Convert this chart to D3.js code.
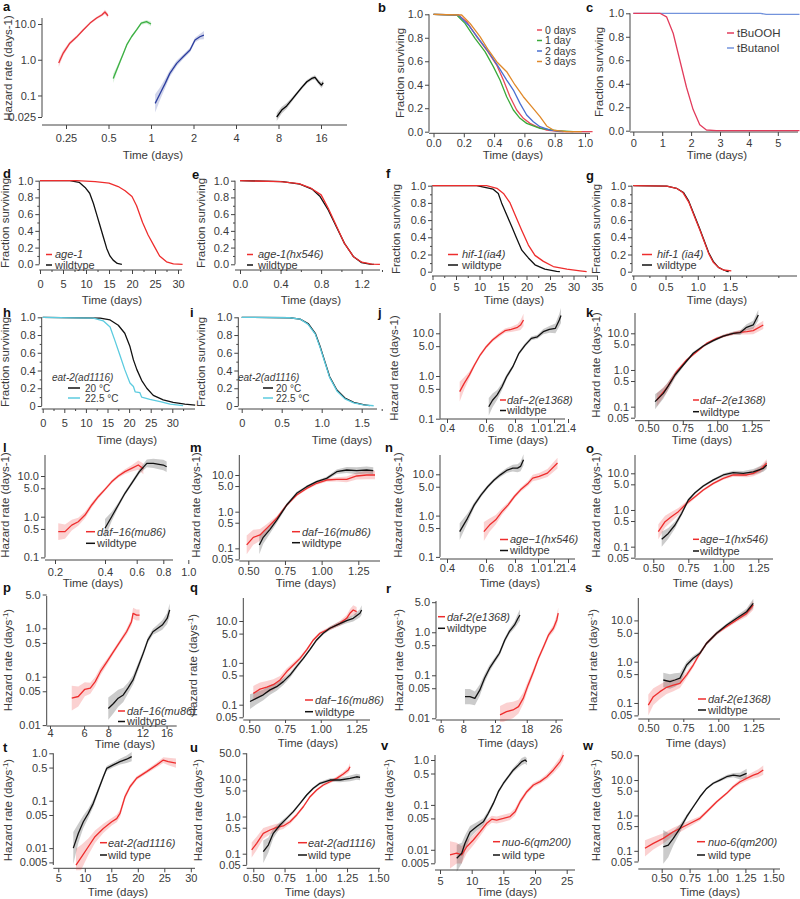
<!DOCTYPE html>
<html>
<head>
<meta charset="utf-8">
<script src="https://cdn.jsdelivr.net/npm/d3@7"></script>
<style>
  body { margin: 0; background: #fff; }
  svg text { font-family: 'Liberation Sans', Arial, Helvetica, sans-serif; fill: #3a3a3a; }
</style>
</head>
<body>
<svg id="fig" width="800" height="899"></svg>
<script>
// ---------- data (time, value, band factor) ----------
// a: hazard vs log time, four ages
const aRed = [[0.222,0.81,1.3],[0.239,1.54,1.2],[0.266,2.9,1.12],[0.297,4.3,1.1],[0.331,6.8,1.08],[0.370,10.6,1.08],[0.412,14.7,1.08],[0.448,17.9,1.1],[0.472,21.7,1.15],[0.496,17,1.15]];
const aGreen = [[0.54,0.3,1.35],[0.571,0.52,1.2],[0.603,0.88,1.15],[0.637,1.5,1.1],[0.673,2.6,1.1],[0.728,4.4,1.08],[0.79,6.8,1.08],[0.853,10.5,1.1],[0.93,11.6,1.12],[1.0,10,1.15]];
const aBlue = [[1.07,0.06,1.8],[1.16,0.114,1.5],[1.26,0.218,1.35],[1.36,0.416,1.25],[1.52,0.79,1.2],[1.69,1.21,1.15],[1.89,1.87,1.15],[2.05,3.57,1.15],[2.22,4.4,1.2],[2.37,4.9,1.3]];
const aBlack = [[7.77,0.025,1.3],[8.43,0.039,1.25],[9.14,0.051,1.2],[9.92,0.075,1.15],[10.8,0.114,1.12],[11.7,0.168,1.12],[12.7,0.243,1.12],[13.75,0.30,1.12],[14.5,0.32,1.15],[15.3,0.243,1.15],[16.1,0.195,1.2],[16.6,0.227,1.2]];

// b: survival, storage days
const b0 = [[0,1],[0.164,0.994],[0.219,0.937],[0.285,0.81],[0.351,0.696],[0.417,0.568],[0.461,0.44],[0.505,0.298],[0.549,0.185],[0.593,0.114],[0.637,0.071],[0.681,0.043],[0.747,0.014],[0.835,0],[1.05,0]];
const b1 = [[0,1],[0.153,0.994],[0.208,0.923],[0.274,0.795],[0.34,0.682],[0.395,0.554],[0.439,0.44],[0.483,0.298],[0.527,0.185],[0.571,0.114],[0.615,0.071],[0.703,0.028],[0.813,0.009],[0.923,0]];
const b2 = [[0,1],[0.164,0.994],[0.23,0.909],[0.296,0.795],[0.362,0.682],[0.428,0.554],[0.483,0.44],[0.527,0.355],[0.571,0.241],[0.615,0.142],[0.659,0.085],[0.703,0.043],[0.769,0.014],[0.857,0]];
const b3 = [[0,1],[0.186,0.994],[0.241,0.923],[0.307,0.81],[0.362,0.696],[0.417,0.596],[0.483,0.511],[0.538,0.398],[0.593,0.298],[0.648,0.213],[0.703,0.128],[0.747,0.049],[0.791,0.014],[0.879,0],[0.978,0]];
const bLabels = ["0 days", "1 day", "2 days", "3 days"];

// c
const cBuOOH = [[0,1],[0.92,1.0],[1.15,0.97],[1.38,0.83],[1.61,0.60],[1.84,0.37],[2.07,0.18],[2.30,0.05],[2.53,0.006],[2.87,0],[5.75,0]];
const cButanol = [[0,1],[4.4,1],[4.6,0.99],[5.75,0.99]];

// d-i survival
const dAge1 = [[0,1],[8,1],[12,0.99],[15,0.97],[17,0.93],[18.5,0.88],[20,0.81],[21,0.7],[22.3,0.5],[23.5,0.35],[25,0.2],[26,0.1],[27.5,0.03],[29,0.005],[31,0]];
const dWild = [[0,1],[6.5,1],[8.5,0.98],[9.8,0.92],[10.8,0.85],[11.6,0.73],[12.3,0.6],[13,0.47],[13.8,0.32],[14.5,0.19],[15.2,0.1],[15.9,0.05],[16.8,0.01],[17.8,0]];
const eAge = [[0,1],[0.4,0.99],[0.58,0.965],[0.7,0.91],[0.8,0.83],[0.87,0.67],[0.95,0.46],[1.03,0.25],[1.12,0.09],[1.2,0.025],[1.3,0.003],[1.38,0]];
const eWild = [[0,1],[0.42,0.99],[0.59,0.96],[0.71,0.9],[0.79,0.81],[0.87,0.65],[0.95,0.45],[1.03,0.25],[1.12,0.09],[1.2,0.02],[1.28,0.002],[1.32,0]];
const fHif = [[0,1],[11.5,1],[13.7,0.97],[15.1,0.91],[16.5,0.8],[17.9,0.62],[19,0.48],[20.4,0.31],[21.8,0.19],[23.6,0.12],[25.7,0.06],[28.6,0.03],[31.4,0.01],[32.8,0]];
const fWild = [[0,1],[9.4,1],[12.9,0.96],[14,0.91],[14.7,0.8],[15.8,0.66],[16.9,0.52],[17.9,0.39],[19,0.25],[20.4,0.16],[21.8,0.08],[23.9,0.03],[26.4,0.005],[27.1,0]];
const gHif = [[0,1],[0.52,0.995],[0.67,0.97],[0.77,0.92],[0.86,0.81],[0.95,0.64],[1.03,0.49],[1.1,0.35],[1.17,0.21],[1.24,0.11],[1.32,0.05],[1.4,0.02],[1.52,0.01]];
const gWild = [[0,1],[0.52,0.995],[0.67,0.97],[0.78,0.92],[0.86,0.82],[0.95,0.65],[1.03,0.5],[1.1,0.36],[1.17,0.22],[1.24,0.12],[1.32,0.05],[1.4,0.02],[1.45,0.005],[1.48,0]];
const h20 = [[0,1],[13.3,0.99],[15.6,0.97],[17.5,0.91],[19,0.82],[20.2,0.67],[21,0.52],[21.8,0.41],[22.9,0.29],[24.1,0.2],[25.6,0.12],[27.9,0.07],[30.2,0.04],[32.9,0.02],[35.3,0.01]];
const h225 = [[0,1],[11.7,0.99],[14,0.96],[15.6,0.89],[16.7,0.74],[17.9,0.57],[19,0.41],[20.2,0.26],[21,0.22],[21.4,0.16],[22.5,0.15],[22.9,0.1],[24.8,0.075],[27.2,0.05],[29.5,0.02],[32.5,0.005]];
const i20 = [[0,1],[0.6,0.995],[0.73,0.98],[0.83,0.93],[0.92,0.82],[0.98,0.67],[1.04,0.5],[1.1,0.33],[1.19,0.18],[1.29,0.09],[1.4,0.04],[1.52,0.015],[1.6,0.005]];
const i225 = [[0,1],[0.6,0.995],[0.73,0.98],[0.83,0.92],[0.92,0.81],[0.98,0.66],[1.04,0.49],[1.1,0.32],[1.19,0.17],[1.29,0.08],[1.4,0.035],[1.52,0.012],[1.65,0.003]];

// j-w hazard curves
const jRed = [[0.465,0.43,1.7],[0.488,0.67,1.4],[0.514,1.05,1.2],[0.541,1.81,1.12],[0.570,3.1,1.1],[0.602,4.86,1.1],[0.645,6.96,1.1],[0.688,9.1,1.12],[0.731,11.5,1.12],[0.774,12.4,1.15],[0.822,13.8,1.2],[0.848,15.6,1.3],[0.874,20.5,1.4]];
const jBlack = [[0.619,0.19,1.6],[0.645,0.27,1.45],[0.677,0.36,1.3],[0.71,0.56,1.2],[0.742,0.96,1.15],[0.785,1.65,1.1],[0.834,3.4,1.1],[0.888,5.3,1.1],[0.942,7.6,1.1],[0.995,8.3,1.12],[1.066,10.9,1.15],[1.143,12.4,1.2],[1.22,13.1,1.3],[1.276,20.5,1.4],[1.30,26,1.5]];
const kRed = [[0.561,0.152,1.5],[0.633,0.317,1.3],[0.706,0.9,1.15],[0.778,1.87,1.1],[0.851,3.15,1.08],[0.923,5.3,1.08],[0.996,7.3,1.08],[1.069,8.97,1.1],[1.141,10.4,1.12],[1.214,11.1,1.2],[1.261,11.8,1.25],[1.334,16.9,1.3]];
const kBlack = [[0.549,0.137,1.6],[0.609,0.23,1.4],[0.645,0.37,1.3],[0.694,0.73,1.2],[0.754,1.37,1.12],[0.826,2.85,1.1],[0.899,4.5,1.08],[0.971,6.3,1.08],[1.044,8.4,1.08],[1.116,10,1.1],[1.165,10.4,1.15],[1.213,14.6,1.2],[1.261,16.9,1.3],[1.298,31.5,1.4]];
const lRed = [[0.213,0.43,1.6],[0.24,0.43,1.5],[0.267,0.62,1.35],[0.293,0.75,1.25],[0.32,1.1,1.2],[0.347,1.94,1.15],[0.373,3.1,1.12],[0.4,4.7,1.1],[0.442,7.2,1.1],[0.484,10,1.1],[0.526,12.8,1.15],[0.568,15.4,1.2],[0.612,18.6,1.3],[0.65,15,1.35]];
const lBlack = [[0.4,0.52,1.7],[0.442,1.0,1.3],[0.484,1.94,1.15],[0.526,3.76,1.12],[0.568,6.6,1.12],[0.62,12.8,1.15],[0.676,20.4,1.25],[0.725,20.4,1.3],[0.8,18.6,1.35],[0.827,16.9,1.35]];
const mRed = [[0.489,0.124,1.8],[0.534,0.2,1.6],[0.58,0.232,1.45],[0.625,0.35,1.3],[0.694,0.66,1.15],[0.762,1.52,1.1],[0.83,2.85,1.08],[0.898,4.3,1.08],[0.966,5.95,1.1],[1.034,7.3,1.12],[1.103,7.6,1.15],[1.171,7.6,1.2],[1.239,9.4,1.25],[1.307,10,1.3],[1.364,10,1.3]];
const mBlack = [[0.575,0.124,1.8],[0.602,0.2,1.5],[0.648,0.33,1.3],[0.694,0.59,1.2],[0.762,1.52,1.12],[0.83,3.17,1.1],[0.898,4.8,1.08],[0.966,6.6,1.08],[1.034,8.1,1.1],[1.103,12.3,1.15],[1.171,13.7,1.2],[1.239,13.1,1.25],[1.307,13.7,1.25],[1.352,13.1,1.25]];
const nBlack = [[0.465,0.41,1.6],[0.505,0.86,1.3],[0.54,1.82,1.15],[0.575,3.18,1.12],[0.613,5.06,1.1],[0.656,7.3,1.1],[0.699,9.7,1.12],[0.742,12.4,1.15],[0.785,14.1,1.2],[0.822,14.1,1.25],[0.848,15.5,1.3],[0.874,22.5,1.35]];
const nRed = [[0.589,0.41,1.7],[0.624,0.59,1.45],[0.667,0.79,1.3],[0.71,1.25,1.2],[0.753,1.82,1.15],[0.796,2.9,1.12],[0.848,4.2,1.12],[0.915,6.1,1.15],[0.954,8.1,1.2],[1.015,8.9,1.2],[1.118,10.7,1.25],[1.25,18.7,1.35]];
const oRed = [[0.536,0.256,1.6],[0.584,0.48,1.45],[0.631,0.66,1.35],[0.679,0.9,1.25],[0.739,1.52,1.15],[0.798,2.3,1.1],[0.857,3.5,1.08],[0.929,5.3,1.08],[1.0,7.3,1.1],[1.071,9.0,1.12],[1.167,9.0,1.15],[1.214,10,1.2],[1.262,12.3,1.25],[1.31,18.7,1.3]];
const oBlack = [[0.56,0.159,1.6],[0.607,0.23,1.4],[0.655,0.39,1.25],[0.703,0.81,1.15],[0.75,1.87,1.1],[0.798,2.96,1.08],[0.857,4.5,1.08],[0.929,6.6,1.08],[1.0,9.0,1.1],[1.071,10.4,1.12],[1.143,10,1.15],[1.214,11,1.2],[1.286,13.7,1.25],[1.31,16.9,1.3]];
const pRed = [[5.18,0.036,1.8],[5.6,0.039,1.6],[6.05,0.055,1.4],[6.46,0.058,1.3],[6.85,0.079,1.25],[7.28,0.127,1.2],[7.88,0.204,1.15],[8.51,0.33,1.12],[9.2,0.53,1.12],[9.94,0.85,1.15],[10.54,1.37,1.2],[10.74,2.04,1.3],[11.2,1.88,1.3],[11.6,1.88,1.3]];
const pBlack = [[8.0,0.022,1.7],[8.51,0.028,1.6],[9.0,0.036,1.5],[9.56,0.042,1.4],[10.1,0.058,1.3],[10.74,0.086,1.25],[11.4,0.16,1.2],[12.1,0.30,1.15],[12.8,0.57,1.15],[13.6,0.85,1.15],[14.4,1.0,1.2],[15.2,1.17,1.25],[16.1,1.6,1.3],[16.6,2.4,1.35]];
const qBlack = [[0.505,0.119,1.5],[0.552,0.144,1.4],[0.598,0.172,1.35],[0.645,0.226,1.3],[0.692,0.27,1.25],[0.738,0.356,1.2],[0.785,0.51,1.15],[0.831,0.81,1.12],[0.878,1.28,1.1],[0.925,2.1,1.08],[0.971,3.52,1.08],[1.017,5.1,1.08],[1.064,6.7,1.1],[1.111,8.0,1.12],[1.181,10.2,1.15],[1.227,11.6,1.2],[1.274,15.3,1.25],[1.286,18.3,1.3]];
const qRed = [[0.528,0.187,1.5],[0.575,0.235,1.45],[0.622,0.263,1.4],[0.668,0.30,1.35],[0.715,0.39,1.25],[0.762,0.62,1.2],[0.808,0.89,1.15],[0.855,1.28,1.12],[0.901,2.04,1.1],[0.948,3.52,1.08],[0.994,5.1,1.08],[1.041,6.1,1.1],[1.087,7.3,1.12],[1.134,8.8,1.15],[1.181,11.6,1.2],[1.204,15.3,1.25],[1.227,18.3,1.3],[1.251,16.7,1.3]];
const rBlack = [[8.18,0.032,1.5],[8.71,0.032,1.5],[9.28,0.029,1.45],[9.88,0.045,1.35],[10.5,0.085,1.25],[11.2,0.146,1.2],[12.0,0.227,1.15],[12.7,0.325,1.15],[13.6,0.66,1.15],[14.4,1.03,1.15],[15.4,1.48,1.2],[16.1,2.12,1.3],[16.5,2.52,1.35]];
const rRed = [[12.8,0.012,1.6],[13.9,0.0143,1.6],[15.1,0.0156,1.55],[16.2,0.0187,1.45],[17.2,0.029,1.35],[18.3,0.059,1.25],[19.6,0.121,1.2],[20.9,0.249,1.15],[22.3,0.46,1.15],[23.8,0.87,1.15],[25.3,1.24,1.2],[26.4,1.93,1.3],[26.9,2.77,1.35]];
const sRed = [[0.5,0.089,1.8],[0.536,0.142,1.6],[0.583,0.188,1.5],[0.631,0.24,1.45],[0.679,0.27,1.4],[0.726,0.30,1.3],[0.774,0.48,1.2],[0.821,0.83,1.15],[0.869,1.6,1.12],[0.917,2.8,1.1],[0.988,4.9,1.1],[1.06,7.1,1.1],[1.131,10.2,1.12],[1.202,14.8,1.2],[1.25,23.5,1.3]];
const sBlack = [[0.607,0.36,1.5],[0.655,0.33,1.5],[0.69,0.36,1.45],[0.726,0.40,1.35],[0.774,0.83,1.2],[0.821,1.21,1.15],[0.869,1.6,1.12],[0.917,2.8,1.1],[0.988,4.9,1.1],[1.06,7.7,1.1],[1.131,11.3,1.15],[1.202,16.2,1.2],[1.25,25.9,1.3]];
const tBlack = [[7.83,0.01,2.2],[8.77,0.0204,1.6],[9.72,0.036,1.35],[10.66,0.054,1.25],[11.6,0.088,1.2],[12.55,0.168,1.15],[13.5,0.32,1.12],[14.13,0.48,1.12],[15.38,0.57,1.12],[16.64,0.67,1.15],[17.9,0.75,1.2],[18.85,0.85,1.25]];
const tRed = [[8.34,0.0044,2.2],[9.42,0.0066,1.8],[10.66,0.0107,1.5],[11.92,0.0174,1.35],[13.49,0.026,1.25],[15.08,0.036,1.2],[16.02,0.042,1.2],[16.64,0.054,1.2],[17.58,0.121,1.15],[18.53,0.197,1.12],[19.79,0.30,1.1],[21.68,0.41,1.1],[23.57,0.57,1.12],[24.81,0.72,1.15],[25.75,0.67,1.2],[27.2,0.62,1.25]];
const uRed = [[0.487,0.126,1.6],[0.527,0.19,1.5],[0.58,0.353,1.4],[0.634,0.434,1.3],[0.687,0.513,1.25],[0.74,0.556,1.2],[0.794,0.725,1.15],[0.847,1.1,1.12],[0.9,1.83,1.1],[0.954,3.41,1.08],[1.007,5.16,1.08],[1.06,7.03,1.08],[1.114,8.6,1.1],[1.167,10.6,1.12],[1.22,13.9,1.15],[1.26,17.8,1.2],[1.274,21.8,1.25]];
const uBlack = [[0.58,0.113,2.0],[0.62,0.171,1.6],[0.66,0.353,1.35],[0.714,0.59,1.2],[0.767,0.89,1.12],[0.82,1.35,1.1],[0.874,2.26,1.08],[0.927,3.78,1.08],[0.98,5.73,1.08],[1.034,7.8,1.1],[1.114,9.57,1.12],[1.194,9.57,1.15],[1.274,10.6,1.2],[1.327,11.7,1.2],[1.354,11.3,1.2]];
const vBlack = [[7.64,0.0065,2.0],[8.43,0.0084,1.7],[8.95,0.014,1.5],[9.74,0.025,1.35],[10.8,0.033,1.25],[11.84,0.042,1.2],[12.63,0.065,1.15],[13.42,0.108,1.12],[14.21,0.197,1.1],[15.0,0.30,1.1],[15.79,0.425,1.1],[16.58,0.60,1.12],[17.37,0.77,1.15],[17.9,0.92,1.2],[18.43,1.0,1.2],[18.7,0.92,1.2]];
const vRed = [[6.58,0.0077,2.0],[7.64,0.0084,1.7],[8.43,0.0077,1.55],[9.22,0.0117,1.4],[10.26,0.0165,1.3],[11.32,0.025,1.25],[12.38,0.039,1.2],[13.17,0.048,1.2],[13.95,0.046,1.2],[15.0,0.05,1.2],[16.06,0.055,1.2],[16.85,0.07,1.2],[17.64,0.118,1.15],[18.7,0.197,1.12],[19.74,0.277,1.12],[20.8,0.33,1.12],[21.86,0.425,1.15],[22.9,0.6,1.2],[23.96,0.92,1.25],[24.48,1.29,1.3]];
const wRed = [[0.35,0.118,1.7],[0.425,0.163,1.5],[0.514,0.225,1.4],[0.604,0.347,1.3],[0.694,0.48,1.25],[0.783,0.664,1.2],[0.843,0.83,1.15],[0.903,1.27,1.12],[0.993,2.44,1.1],[1.082,4.21,1.1],[1.142,6.46,1.12],[1.202,8.95,1.15],[1.261,11.2,1.2],[1.321,13.8,1.25],[1.366,15.5,1.3],[1.41,19.2,1.35]];
const wBlack = [[0.514,0.13,3.0],[0.559,0.146,2.2],[0.604,0.225,1.6],[0.664,0.43,1.3],[0.724,0.92,1.15],[0.783,1.76,1.1],[0.843,3.37,1.08],[0.903,5.8,1.08],[0.962,8.1,1.08],[1.022,10,1.1],[1.082,12.4,1.12],[1.142,13.8,1.15],[1.202,12.9,1.25],[1.261,15.4,1.35]];

// ---------- styles ----------
const RED = "#ee2d2d", BLK = "#111", CYAN = "#5ccbdf";
const svg = d3.select("#fig");
const f1 = d3.format(".1f"), f2 = d3.format(".2f");
const hz = v => v >= 1 ? f1(v) : String(v);
const z1 = v => v === 0 ? "0" : f1(v);
const lin = (d, r) => d3.scaleLinear().domain(d).range(r);
const lg = (d, r) => d3.scaleLog().domain(d).range(r);
const range = (a, b, s) => d3.range(a, b + s / 2, s).map(v => +v.toFixed(4));

function drawPanel(p) {
  const g = svg.append("g");
  const x = p.x, y = p.y;
  const axColor = "#444";
  const xts = p.xts !== undefined ? p.xts : 4, xpad = p.xpad !== undefined ? p.xpad : 2;

  // y axis
  const yg = g.append("g").attr("transform", `translate(${p.ax},0)`)
    .call(d3.axisLeft(y).tickValues(p.yTicks).tickFormat(p.yFmt).tickSize(4).tickPadding(2));
  if (p.yMinor) {
    g.append("g").attr("transform", `translate(${p.ax},0)`)
      .call(d3.axisLeft(y).tickValues(p.yMinor).tickFormat("").tickSize(2))
      .call(s => s.select(".domain").remove()).attr("color", axColor);
  }
  yg.select(".domain").remove();
  yg.attr("color", axColor).attr("font-size", 11).attr("font-family", null);
  g.append("line").attr("x1", p.ax).attr("x2", p.ax).attr("y1", p.ay[0]).attr("y2", p.ay[1])
    .attr("stroke", axColor).attr("stroke-width", 1);

  // x axis
  const xg = g.append("g").attr("transform", `translate(0,${p.axy})`)
    .call(d3.axisBottom(x).tickValues(p.xTicks).tickFormat(p.xFmt).tickSize(xts).tickPadding(xpad));
  if (p.xMinor) {
    g.append("g").attr("transform", `translate(0,${p.axy})`)
      .call(d3.axisBottom(x).tickValues(p.xMinor).tickFormat("").tickSize(2))
      .call(s => s.select(".domain").remove()).attr("color", axColor);
  }
  xg.select(".domain").remove();
  xg.attr("color", axColor).attr("font-size", 11).attr("font-family", null);
  g.append("line").attr("x1", p.axx[0]).attr("x2", p.axx[1]).attr("y1", p.axy).attr("y2", p.axy)
    .attr("stroke", axColor).attr("stroke-width", 1);

  // titles
  const yl = g.append("text").attr("transform", `translate(${p.ylab[1]},${p.ylab[2]}) rotate(-90)`)
    .attr("text-anchor", "middle").attr("font-size", 11.5);
  if (p.sup) {
    yl.append("tspan").text("Hazard rate (days");
    yl.append("tspan").text("-1").attr("font-size", 8).attr("dy", -4);
    yl.append("tspan").text(")").attr("dy", 4);
  } else {
    yl.text(p.ylab[0]);
  }
  g.append("text").attr("x", p.xlab[0]).attr("y", p.xlab[1]).attr("text-anchor", "middle")
    .attr("font-size", 11.5).text("Time (days)");
  g.append("text").attr("x", p.letter[1]).attr("y", p.letter[2]).attr("font-size", 13)
    .attr("font-weight", "bold").style("fill", "#111").text(p.letter[0]);

  // series
  const clipId = "clip" + p.letter[0];
  const top = p.clipTop !== undefined ? p.clipTop : p.ay[0] - 12;
  g.append("clipPath").attr("id", clipId).append("rect")
    .attr("x", p.ax).attr("y", top).attr("width", 800).attr("height", p.axy - top + 2);
  const sg = g.append("g").attr("clip-path", `url(#${clipId})`);
  p.series.forEach(s => {
    if (s.d[0].length > 2) {
      const area = d3.area().x(d => x(d[0])).y0(d => y(d[1] / d[2])).y1(d => y(d[1] * d[2]));
      sg.append("path").datum(s.d).attr("d", area).attr("fill", s.c).attr("fill-opacity", 0.22);
    }
  });
  p.series.forEach(s => {
    const line = d3.line().x(d => x(d[0])).y(d => y(d[1]));
    sg.append("path").datum(s.d).attr("d", line).attr("fill", "none")
      .attr("stroke", s.c).attr("stroke-width", 1.3).attr("stroke-linejoin", "round");
  });

  // legend
  if (p.legend) {
    const L = p.legend, fs = L.fs || 11;
    if (L.title) {
      g.append("text").attr("x", L.title[1]).attr("y", L.title[2] + fs * 0.35).attr("font-size", fs)
        .attr("font-style", "italic").text(L.title[0]);
    }
    L.items.forEach(it => {
      g.append("line").attr("x1", L.x0).attr("x2", L.x1).attr("y1", it.y).attr("y2", it.y)
        .attr("stroke", it.c).attr("stroke-width", 1.5);
      g.append("text").attr("x", L.tx).attr("y", it.y + fs * 0.35).attr("font-size", fs)
        .attr("font-style", it.it ? "italic" : "normal").text(it.t);
    });
  }
}

const jnX = [0.4, 0.6, 0.8, 1.0, 1.2, 1.4], jnR = [447, 486, 515, 538, 554, 568];

const panels = [
  { letter: ["a", 3, 11], x: d3.scaleLog().base(2).domain([0.25, 16]).range([66, 321]), y: lg([0.025, 10], [117, 24]),
    ax: 42, ay: [18, 117], axy: 125, axx: [42, 347], xpad: 5, xTicks: [0.25, 0.5, 1, 2, 4, 8, 16], xFmt: String,
    yTicks: [10, 1, 0.1, 0.025], yFmt: hz, ylab: ["Hazard rate (days-1)", 12, 68], xlab: [153, 159], clipTop: 0,
    series: [{ d: aRed, c: "#e8333a" }, { d: aGreen, c: "#3cb043" }, { d: aBlue, c: "#2b3d9e" }, { d: aBlack, c: "#000" }] },
  { letter: ["b", 378, 12], x: lin([0, 1], [433.5, 585]), y: lin([0, 1], [131.7, 14.3]),
    ax: 429, ay: [14.3, 131.7], axy: 133.3, axx: [429, 590], xpad: 2, xTicks: range(0, 1, 0.2), xFmt: f1,
    yTicks: range(0, 1, 0.2), yFmt: f1, ylab: ["Fraction surviving", 404, 73], xlab: [513, 159],
    series: [{ d: b0, c: "#e84a5a" }, { d: b1, c: "#3aaa3a" }, { d: b2, c: "#4a6fd0" }, { d: b3, c: "#e0892a" }],
    legend: { fs: 10.5, x0: 537, x1: 542, tx: 545, items: [
      { t: bLabels[0], c: "#e84a5a", y: 30 }, { t: bLabels[1], c: "#3aaa3a", y: 40.5 },
      { t: bLabels[2], c: "#4a6fd0", y: 51 }, { t: bLabels[3], c: "#e0892a", y: 61.5 }] } },
  { letter: ["c", 586, 12], x: lin([0, 5], [633.3, 777.8]), y: lin([0, 1], [130.7, 13.3]),
    ax: 630, ay: [13.3, 130.7], axy: 132, axx: [630, 798], xpad: 3, xTicks: range(0, 5, 1), xFmt: String,
    yTicks: range(0, 1, 0.2), yFmt: f1, ylab: ["Fraction surviving", 603, 72], xlab: [717, 159],
    series: [{ d: cButanol, c: "#7393dc" }, { d: cBuOOH, c: "#e23c5c" }],
    legend: { fs: 11.5, x0: 727, x1: 734, tx: 737, items: [{ t: "tBuOOH", c: "#e23c5c", y: 33 }, { t: "tButanol", c: "#7393dc", y: 48 }] } },

  { letter: ["d", 3, 178], x: lin([0, 30], [40, 178]), y: lin([0, 1], [264.3, 180.7]),
    ax: 39.3, ay: [180.7, 264.3], axy: 270, axx: [39.3, 182], xpad: 6, xTicks: range(0, 30, 5), xFmt: String, xMinor: range(2.5, 27.5, 5),
    yTicks: range(0, 1, 0.2), yFmt: f1, yMinor: range(0.1, 0.9, 0.2), ylab: ["Fraction surviving", 9, 223], xlab: [112, 304],
    series: [{ d: dWild, c: BLK }, { d: dAge1, c: RED }],
    legend: { x0: 46, x1: 52, tx: 55, items: [{ t: "age-1", c: RED, y: 254.5, it: true }, { t: "wildtype", c: BLK, y: 265 }] } },
  { letter: ["e", 192, 179], x: lin([0, 1.2], [240, 361.7]), y: lin([0, 1], [264.3, 180.7]),
    ax: 235, ay: [180.7, 264.3], axy: 270, axx: [235, 380], xpad: 6, xTicks: [0, 0.4, 0.8, 1.2], xFmt: f1, xMinor: [0.2, 0.6, 1.0, 1.4],
    yTicks: range(0, 1, 0.2), yFmt: f1, yMinor: range(0.1, 0.9, 0.2), ylab: ["Fraction surviving", 205, 223], xlab: [311, 304],
    series: [{ d: eWild, c: BLK }, { d: eAge, c: RED }],
    legend: { x0: 247, x1: 253, tx: 258, items: [{ t: "age-1(hx546)", c: RED, y: 254.5, it: true }, { t: "wildtype", c: BLK, y: 265 }] } },
  { letter: ["f", 386, 178], x: lin([0, 35], [432.5, 597]), y: lin([0, 1], [271.7, 185.7]),
    ax: 432, ay: [185.7, 271.7], axy: 276, axx: [432, 598], xpad: 3, xTicks: range(0, 35, 5), xFmt: String, xMinor: range(2.5, 32.5, 5),
    yTicks: range(0, 1, 0.2), yFmt: z1, yMinor: range(0.1, 0.9, 0.2), ylab: ["Fraction surviving", 400, 229], xlab: [514, 304],
    series: [{ d: fWild, c: BLK }, { d: fHif, c: RED }],
    legend: { x0: 448, x1: 458, tx: 462, items: [{ t: "hif-1(ia4)", c: RED, y: 254.5, it: true }, { t: "wildtype", c: BLK, y: 265 }] } },
  { letter: ["g", 586, 180], x: lin([0, 1.5], [633.3, 730]), y: lin([0, 1], [271.7, 185.7]),
    ax: 632, ay: [185.7, 271.7], axy: 276, axx: [632, 797], xpad: 3, xTicks: [0, 0.5, 1, 1.5], xFmt: z1, xMinor: [0.25, 0.75, 1.25, 1.75, 2.25],
    yTicks: range(0, 1, 0.2), yFmt: z1, yMinor: range(0.1, 0.9, 0.2), ylab: ["Fraction surviving", 600, 229], xlab: [717, 304],
    series: [{ d: gWild, c: BLK }, { d: gHif, c: RED }],
    legend: { x0: 642, x1: 652, tx: 657, items: [{ t: "hif-1 (ia4)", c: RED, y: 254.5, it: true }, { t: "wildtype", c: BLK, y: 265 }] } },

  { letter: ["h", 3, 317], x: lin([0, 30], [42.7, 172.3]), y: lin([0, 1], [406, 317.3]),
    ax: 41.7, ay: [317.3, 406], axy: 409, axx: [41.7, 195], xpad: 6, xTicks: range(0, 30, 5), xFmt: String, xMinor: range(2.5, 32.5, 5),
    yTicks: range(0, 1, 0.2), yFmt: z1, yMinor: range(0.1, 0.9, 0.2), ylab: ["Fraction surviving", 9, 362], xlab: [127, 444],
    series: [{ d: h20, c: BLK }, { d: h225, c: CYAN }],
    legend: { fs: 10, title: ["eat-2(ad1116)", 52, 377.5], x0: 68, x1: 80, tx: 85, items: [{ t: "20 °C", c: BLK, y: 388 }, { t: "22.5 °C", c: CYAN, y: 398 }] } },
  { letter: ["i", 190, 317], x: lin([0, 1.5], [241.7, 361.7]), y: lin([0, 1], [406, 317.3]),
    ax: 238.3, ay: [317.3, 406], axy: 409, axx: [238.3, 377], xpad: 6, xTicks: [0, 0.5, 1, 1.5], xFmt: z1, xMinor: [0.25, 0.75, 1.25, 1.75],
    yTicks: range(0, 1, 0.2), yFmt: z1, yMinor: range(0.1, 0.9, 0.2), ylab: ["Fraction surviving", 205, 362], xlab: [342, 444],
    series: [{ d: i20, c: BLK }, { d: i225, c: CYAN }],
    legend: { fs: 10, title: ["eat-2(ad1116)", 238, 377.5], x0: 263, x1: 273, tx: 276, items: [{ t: "20 °C", c: BLK, y: 388 }, { t: "22.5 °C", c: CYAN, y: 398 }] } },
  { letter: ["j", 378, 317], x: lin(jnX, jnR), y: lg([0.1, 10], [418.7, 333.3]),
    ax: 440, ay: [313, 418.7], axy: 419, axx: [440, 565], xpad: 1, xTicks: jnX, xFmt: f1,
    yTicks: [10, 5, 1, 0.5, 0.1], yFmt: hz, ylab: ["Hazard rate (days-1)", 398, 368], xlab: [518, 444],
    series: [{ d: jRed, c: RED }, { d: jBlack, c: BLK }],
    legend: { x0: 500, x1: 506, tx: 507, items: [{ t: "daf−2(e1368)", c: RED, y: 400, it: true }, { t: "wildtype", c: BLK, y: 410.5 }] } },
  { letter: ["k", 586, 317], x: lin([0.5, 1.25], [648.3, 751.7]), y: lg([0.05, 10], [417.7, 333.3]),
    ax: 635, ay: [313, 417.7], axy: 420.7, axx: [635, 770], xpad: 0, xTicks: [0.5, 0.75, 1, 1.25], xFmt: f2,
    yTicks: [10, 5, 1, 0.5, 0.1, 0.05], yFmt: hz, ylab: ["Hazard rate (days-1)", 600, 365], xlab: [702, 444],
    series: [{ d: kRed, c: RED }, { d: kBlack, c: BLK }],
    legend: { x0: 693, x1: 699, tx: 700, items: [{ t: "daf−2(e1368)", c: RED, y: 400, it: true }, { t: "wildtype", c: BLK, y: 411.7 }] } },

  { letter: ["l", 3, 452], x: lin([0.2, 0.4, 0.6, 0.8, 1.0], [55, 105, 136.7, 163.3, 188.3]), y: lg([0.1, 10], [557.4, 476]),
    ax: 45, ay: [455, 557.4], axy: 560, axx: [45, 173], xpad: 4, xTicks: [0.2, 0.4, 0.6, 0.8, 1.0], xFmt: f1,
    yTicks: [10, 5, 1, 0.5, 0.1], yFmt: hz, ylab: ["Hazard rate (days-1)", 9, 505], xlab: [93, 587],
    series: [{ d: lRed, c: RED }, { d: lBlack, c: BLK }],
    legend: { x0: 86, x1: 95, tx: 97, items: [{ t: "daf−16(mu86)", c: RED, y: 531.7, it: true }, { t: "wildtype", c: BLK, y: 543.3 }] } },
  { letter: ["m", 190, 452], x: lin([0.5, 1.25], [248.3, 358.3]), y: lg([0.05, 10], [559.4, 475]),
    ax: 239.3, ay: [455, 559.4], axy: 561, axx: [239.3, 380], xpad: 2, xTicks: [0.5, 0.75, 1, 1.25], xFmt: f2,
    yTicks: [10, 5, 1, 0.5, 0.1, 0.05], yFmt: hz, ylab: ["Hazard rate (days-1)", 200, 505], xlab: [306, 587],
    series: [{ d: mRed, c: RED }, { d: mBlack, c: BLK }],
    legend: { x0: 292, x1: 300, tx: 302, items: [{ t: "daf−16(mu86)", c: RED, y: 531.7, it: true }, { t: "wildtype", c: BLK, y: 542.7 }] } },
  { letter: ["n", 385, 452], x: lin(jnX, jnR), y: lg([0.1, 10], [556.9, 474.3]),
    ax: 440, ay: [455, 556.9], axy: 559, axx: [440, 575], xpad: 1, xTicks: jnX, xFmt: f1,
    yTicks: [10, 5, 1, 0.5, 0.1], yFmt: hz, ylab: ["Hazard rate (days-1)", 402, 505], xlab: [510, 587],
    series: [{ d: nRed, c: RED }, { d: nBlack, c: BLK }],
    legend: { x0: 500, x1: 508, tx: 510, items: [{ t: "age−1(hx546)", c: RED, y: 539.5, it: true }, { t: "wildtype", c: BLK, y: 550.5 }] } },
  { letter: ["o", 586, 453], x: lin([0.5, 1.25], [653.3, 758.3]), y: lg([0.05, 10], [557.7, 473.3]),
    ax: 635, ay: [455, 557.7], axy: 559, axx: [635, 773], xpad: 1, xTicks: [0.5, 0.75, 1, 1.25], xFmt: f2,
    yTicks: [10, 5, 1, 0.5, 0.1, 0.05], yFmt: hz, ylab: ["Hazard rate (days-1)", 600, 505], xlab: [703, 587],
    series: [{ d: oRed, c: RED }, { d: oBlack, c: BLK }],
    legend: { x0: 693, x1: 699, tx: 700, items: [{ t: "age−1(hx546)", c: RED, y: 539.3, it: true }, { t: "wildtype", c: BLK, y: 551 }] } },

  { letter: ["p", 3, 592], x: lg([4, 16], [50, 166.6]), y: lg([0.01, 5], [725.1, 594.5]),
    ax: 46.7, ay: [596, 725.1], axy: 726, axx: [46.7, 176.7], xts: 3, xpad: 0, xTicks: [4, 6, 8, 12, 16], xFmt: String,
    yTicks: [5, 1, 0.5, 0.1, 0.05, 0.01], yFmt: hz, ylab: ["", 12, 660], sup: true, xlab: [125, 748],
    series: [{ d: pRed, c: RED }, { d: pBlack, c: BLK }],
    legend: { x0: 118, x1: 125, tx: 127, items: [{ t: "daf−16(mu86)", c: RED, y: 711, it: true }, { t: "wildtype", c: BLK, y: 721.5 }] } },
  { letter: ["q", 190, 592], x: lin([0.5, 1.25], [249.3, 356.5]), y: lg([0.05, 10], [717.3, 621]),
    ax: 243.3, ay: [598, 717.3], axy: 720, axx: [243.3, 370], xts: 3, xpad: 2, xTicks: [0.5, 0.75, 1, 1.25], xFmt: f2,
    yTicks: [10, 5, 1, 0.5, 0.1, 0.05], yFmt: hz, ylab: ["", 197, 665], sup: true, xlab: [308, 747],
    series: [{ d: qRed, c: RED }, { d: qBlack, c: BLK }],
    legend: { x0: 305, x1: 313, tx: 315, items: [{ t: "daf−16(mu86)", c: RED, y: 700, it: true }, { t: "wildtype", c: BLK, y: 711.7 }] } },
  { letter: ["r", 386, 593], x: lg([6, 12], [440.7, 495]), y: lg([0.01, 5], [718.3, 602.2]),
    ax: 436, ay: [601, 718.3], axy: 720, axx: [436, 563], xts: 3, xpad: 2, xTicks: [6, 8, 12, 18, 26], xFmt: String,
    yTicks: [5, 1, 0.5, 0.1, 0.05, 0.01], yFmt: hz, ylab: ["", 403, 660], sup: true, xlab: [508, 747],
    series: [{ d: rRed, c: RED }, { d: rBlack, c: BLK }],
    legend: { x0: 438, x1: 445, tx: 447, items: [{ t: "daf-2(e1368)", c: RED, y: 616.7, it: true }, { t: "wildtype", c: BLK, y: 628.3 }] } },
  { letter: ["s", 585, 592], x: lin([0.5, 1.25], [648.3, 753.3]), y: lg([0.05, 10], [715.4, 620.4]),
    ax: 638.3, ay: [598, 715.4], axy: 719, axx: [638.3, 780], xts: 3, xpad: 2, xTicks: [0.5, 0.75, 1, 1.25], xFmt: f2,
    yTicks: [10, 5, 1, 0.5, 0.1, 0.05], yFmt: hz, ylab: ["", 597, 660], sup: true, xlab: [696, 747],
    series: [{ d: sRed, c: RED }, { d: sBlack, c: BLK }],
    legend: { x0: 698, x1: 706, tx: 708, items: [{ t: "daf-2(e1368)", c: RED, y: 699, it: true }, { t: "wildtype", c: BLK, y: 710 }] } },

  { letter: ["t", 3, 752], x: lin([5, 30], [58.3, 190.8]), y: lg([0.005, 1], [862.4, 753.3]),
    ax: 53.3, ay: [753.3, 865], axy: 868.3, axx: [53.3, 195], xpad: 2, xTicks: range(5, 30, 5), xFmt: String,
    yTicks: [1, 0.5, 0.1, 0.05, 0.01, 0.005], yFmt: hz, ylab: ["", 12, 810], sup: true, xlab: [118, 896],
    series: [{ d: tRed, c: RED }, { d: tBlack, c: BLK }],
    legend: { x0: 100, x1: 107, tx: 108, items: [{ t: "eat-2(ad1116)", c: RED, y: 842.7, it: true }, { t: "wild type", c: BLK, y: 855 }] } },
  { letter: ["u", 190, 752], x: lin([0.5, 1.5], [253.3, 378.3]), y: lg([0.05, 50], [864.9, 753.3]),
    ax: 246.7, ay: [753.3, 864.9], axy: 868.3, axx: [246.7, 380], xpad: 2, xTicks: [0.5, 0.75, 1, 1.25, 1.5], xFmt: f2,
    yTicks: [50, 10, 5, 1, 0.5, 0.1, 0.05], yFmt: hz, ylab: ["", 202, 810], sup: true, xlab: [315, 896],
    series: [{ d: uRed, c: RED }, { d: uBlack, c: BLK }],
    legend: { x0: 298, x1: 307, tx: 308, items: [{ t: "eat-2(ad1116)", c: RED, y: 842.7, it: true }, { t: "wild type", c: BLK, y: 855 }] } },
  { letter: ["v", 381, 750], x: lin([5, 25], [440, 566.7]), y: lg([0.005, 1], [863.3, 760]),
    ax: 435, ay: [755, 863.3], axy: 870, axx: [435, 575], xpad: 3, xTicks: range(5, 25, 5), xFmt: String,
    yTicks: [1, 0.5, 0.1, 0.05, 0.01, 0.005], yFmt: hz, ylab: ["", 393, 810], sup: true, xlab: [507, 896],
    series: [{ d: vRed, c: RED }, { d: vBlack, c: BLK }],
    legend: { x0: 493, x1: 500, tx: 502, items: [{ t: "nuo-6(qm200)", c: RED, y: 841.7, it: true }, { t: "wild type", c: BLK, y: 855 }] } },
  { letter: ["w", 583, 750], x: lin([0.5, 1.5], [661.7, 773.3]), y: lg([0.05, 50], [861.5, 755.3]),
    ax: 638.3, ay: [755, 861.5], axy: 869, axx: [638.3, 780], xpad: 1, xTicks: [0.5, 0.75, 1, 1.25, 1.5], xFmt: f2,
    yTicks: [50, 10, 5, 1, 0.5, 0.1, 0.05], yFmt: hz, ylab: ["", 600, 810], sup: true, xlab: [710, 896],
    series: [{ d: wRed, c: RED }, { d: wBlack, c: BLK }],
    legend: { x0: 697, x1: 705, tx: 708, items: [{ t: "nuo-6(qm200)", c: RED, y: 841.7, it: true }, { t: "wild type", c: BLK, y: 855 }] } }
];

panels.forEach(drawPanel);
</script>
</body>
</html>
